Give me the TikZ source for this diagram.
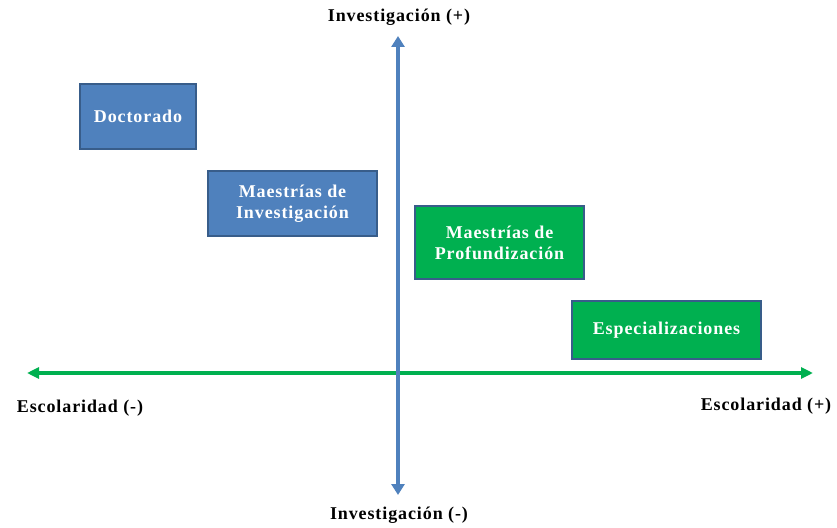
\documentclass[tikz,border=0pt]{standalone}
\usepackage{fontspec}
\setmainfont{Liberation Serif}
\newfontfamily\spacedfont[LetterSpace=5]{Liberation Serif}
\usetikzlibrary{arrows.meta}
\definecolor{bluefill}{HTML}{4F81BD}
\definecolor{blueedge}{HTML}{385D8A}
\definecolor{greenfill}{HTML}{00B050}
\tikzset{
  box/.style={draw=blueedge, line width=1.6pt, fill=#1, text=white, font=\spacedfont\fontsize{18}{21}\selectfont\bfseries, align=center, inner sep=0pt},
  axlabel/.style={font=\spacedfont\fontsize{18}{21}\selectfont\bfseries, text=black, inner sep=0pt},
}
\begin{document}
\begin{tikzpicture}[x=1pt,y=-1pt]
\useasboundingbox (0,0) rectangle (837,527);
% axes
\coordinate (vt) at (398,36);
\coordinate (vb) at (398,495);
\coordinate (hl) at (27,373);
\coordinate (hr) at (813,373);
\draw[greenfill, line width=3.2pt, {Triangle[length=12pt,width=11pt]}-{Triangle[length=12pt,width=11pt]}] (hl) -- (hr);
\draw[bluefill, line width=3.2pt, {Triangle[length=11pt,width=13pt]}-{Triangle[length=11pt,width=13pt]}] (vb) -- (vt);
% boxes
\node[box=bluefill, minimum width=116pt, minimum height=65pt] (doc) at (138,116.5) {Doctorado};
\node[box=bluefill, minimum width=169pt, minimum height=65pt] (mi) at (292.5,203.5) {Maestrías de\\Investigación};
\node[box=greenfill, minimum width=169pt, minimum height=73pt] (mp) at (499.5,242.5) {Maestrías de\\Profundización};
\node[box=greenfill, minimum width=189pt, minimum height=58pt] (esp) at (666.5,330) {Especializaciones};
% labels
\node[axlabel] (it) at (399,17) {Investigación (+)};
\node[axlabel] (ib) at (399,515) {Investigación (-)};
\node[axlabel] (el) at (80,408) {Escolaridad (-)};
\node[axlabel] (er) at (766,406) {Escolaridad (+)};
\end{tikzpicture}
\end{document}
